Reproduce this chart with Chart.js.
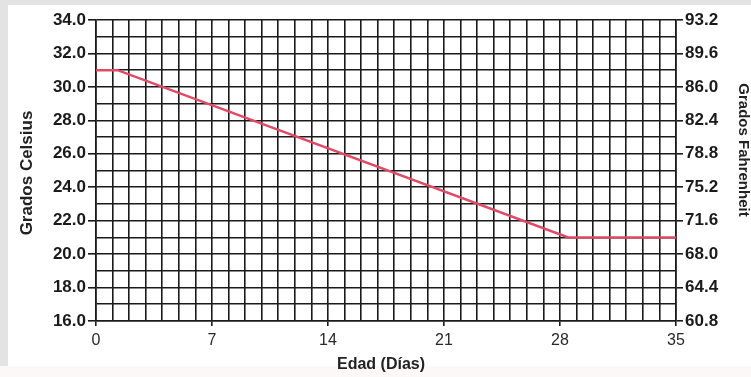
<!DOCTYPE html>
<html>
<head>
<meta charset="utf-8">
<script src="https://cdn.jsdelivr.net/npm/chart.js@4.4.1/dist/chart.umd.min.js"></script>
<style>
  html, body { margin: 0; padding: 0; }
  body { width: 751px; height: 377px; position: relative; overflow: hidden; background: #fcf8f8; }
  .strip { position: absolute; background: #e3e3e3; }
  #panel { position: absolute; left: 8px; top: 5px; width: 743px; height: 361px; background: #ffffff; }
  #chart { position: absolute; left: 0; top: 0; }
</style>
</head>
<body>
<div class="strip" style="left:0;top:0;width:751px;height:5px"></div>
<div class="strip" style="left:0;top:0;width:8px;height:366px"></div>
<div id="panel"></div>
<canvas id="chart" width="751" height="377"></canvas>
<script>
// Brooding temperature schedule by age
const days = [0, 1.3, 28.5, 35];
const tempC = [31, 31, 21, 21];

// Labelled ticks on each axis
const dayTicks = [0, 7, 14, 21, 28, 35];
const celsiusLabels = ['16.0', '18.0', '20.0', '22.0', '24.0', '26.0', '28.0', '30.0', '32.0', '34.0'];
const fahrenheitLabels = ['60.8', '64.4', '68.0', '71.6', '75.2', '78.8', '82.4', '86.0', '89.6', '93.2'];

const INK = '#1a1a1a';
const CLEAR = 'rgba(0,0,0,0)';
const FONT = '"Liberation Sans", Arial, sans-serif';

const axisTitles = {
  id: 'axisTitles',
  afterDraw(chart) {
    const ctx = chart.ctx;
    ctx.save();
    ctx.fillStyle = '#222';
    ctx.textAlign = 'center';
    ctx.textBaseline = 'middle';

    ctx.font = 'bold 16px ' + FONT;
    ctx.fillText('Edad (Días)', 381, 365);

    ctx.save();
    ctx.font = 'bold 17px ' + FONT;
    ctx.translate(27, 173);
    ctx.rotate(-Math.PI / 2);
    ctx.fillText('Grados Celsius', 0, 0);
    ctx.restore();

    ctx.save();
    ctx.font = 'bold 15px ' + FONT;
    ctx.translate(743, 150);
    ctx.rotate(Math.PI / 2);
    ctx.fillText('Grados Fahrenheit', 0, 0);
    ctx.restore();

    ctx.restore();
  }
};

new Chart(document.getElementById('chart'), {
  type: 'line',
  data: {
    datasets: [{
      data: days.map((d, i) => ({ x: d, y: tempC[i] })),
      borderColor: '#e04a66',
      borderWidth: 2.5,
      pointRadius: 0,
      tension: 0,
      fill: false,
      yAxisID: 'yC'
    }]
  },
  options: {
    responsive: false,
    animation: false,
    events: [],
    layout: { padding: { top: 20, left: 0, right: 0, bottom: 0 } },
    plugins: { legend: { display: false }, tooltip: { enabled: false } },
    scales: {
      x: {
        type: 'linear',
        min: 0,
        max: 35,
        afterFit(s) { s.height = 56; },
        ticks: {
          stepSize: 1,
          autoSkip: false,
          maxRotation: 0,
          padding: 5,
          color: '#2a2a2a',
          font: { family: FONT, size: 16 },
          callback: v => dayTicks.includes(v) ? String(v) : ''
        },
        grid: {
          color: INK,
          lineWidth: 1.6,
          tickLength: 5,
          tickColor: c => (c.tick && dayTicks.includes(c.tick.value)) ? INK : CLEAR
        },
        border: { display: true, color: INK, width: 1.6 }
      },
      yC: {
        type: 'linear',
        position: 'left',
        min: 16,
        max: 34,
        afterFit(s) { s.width = 96; },
        ticks: {
          stepSize: 1,
          autoSkip: false,
          padding: 2,
          color: '#1a1a1a',
          font: { family: FONT, size: 17, weight: 'bold' },
          callback: v => celsiusLabels.includes(v.toFixed(1)) ? v.toFixed(1) : ''
        },
        grid: {
          color: INK,
          lineWidth: 1.6,
          tickLength: 8,
          tickColor: c => (c.tick && celsiusLabels.includes(c.tick.value.toFixed(1))) ? INK : CLEAR
        },
        border: { display: true, color: INK, width: 1.6 }
      },
      yF: {
        type: 'linear',
        position: 'right',
        min: 16,
        max: 34,
        afterFit(s) { s.width = 75; },
        ticks: {
          stepSize: 2,
          autoSkip: false,
          padding: 2,
          color: '#1a1a1a',
          font: { family: FONT, size: 17, weight: 'bold' },
          callback: (v, i) => fahrenheitLabels[i]
        },
        grid: {
          drawOnChartArea: false,
          color: INK,
          lineWidth: 1.6,
          tickLength: 7,
          tickColor: INK
        },
        border: { display: true, color: INK, width: 1.6 }
      }
    }
  },
  plugins: [axisTitles]
});
</script>
</body>
</html>
